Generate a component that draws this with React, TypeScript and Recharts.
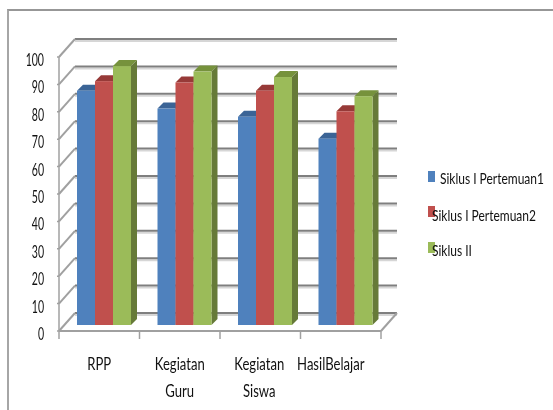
import React from "react";
import { BarChart, Bar, XAxis, YAxis, CartesianGrid, Legend } from "recharts";

const categories = ["RPP", "Kegiatan Guru", "Kegiatan Siswa", "HasilBelajar"];
const siklus1p1 = [85.5, 79, 76, 68];
const siklus1p2 = [89, 88.5, 85.5, 78];
const siklus2 = [94.5, 92.5, 90.5, 83.5];
const yTicks = [0, 10, 20, 30, 40, 50, 60, 70, 80, 90, 100];

const data = categories.map((name, i) => ({
  name,
  p1: siklus1p1[i],
  p2: siklus1p2[i],
  s2: siklus2[i],
}));

const series = [
  { key: "p1", name: "Siklus I Pertemuan1", front: "#4f81bd", top: "#3b6496", side: "#3b6496" },
  { key: "p2", name: "Siklus I Pertemuan2", front: "#c0504d", top: "#973a38", side: "#973a38" },
  { key: "s2", name: "Siklus II", front: "#9bbb59", top: "#76923c", side: "#667a38" },
];

const WIDTH = 553;
const HEIGHT = 410;
const PLOT_LEFT = 64;
const PLOT_RIGHT = 386;
const PLOT_TOP = 51;
const PLOT_BOTTOM = 325;
const STEP = (PLOT_BOTTOM - PLOT_TOP) / 10;
const BAND = (PLOT_RIGHT - PLOT_LEFT) / categories.length;
const FONT = "Lato";
const GRID = "#7f7f7f";

// front face of the 3d box sits between the axis plane and the back wall
const FRONT_DX = -5;
const FRONT_DY = 6;
const BACK_DX = 11;
const BACK_DY = -12;
const DEPTH = 6;

const Squeezed = ({ x, y, anchor, size = 15, squeeze = 0.74, children }: any) => (
  <text
    transform={`translate(${x},${y}) scale(${squeeze},1)`}
    textAnchor={anchor}
    fontFamily={FONT}
    fontSize={size}
    fill="#111"
  >
    {children}
  </text>
);

const Box3D = (props: any) => {
  const { x, y, width, height, colors } = props;
  const r = x + width;
  const b = y + height;
  return (
    <g>
      <polygon
        points={`${x},${y} ${x + DEPTH},${y - DEPTH} ${r + DEPTH},${y - DEPTH} ${r},${y}`}
        fill={colors.top}
      />
      <polygon
        points={`${r},${y} ${r + DEPTH},${y - DEPTH} ${r + DEPTH},${b - DEPTH} ${r},${b}`}
        fill={colors.side}
      />
      <rect x={x} y={y} width={width} height={height} fill={colors.front} />
    </g>
  );
};

const WallLine = (props: any) => {
  const { x1, x2, y1, index } = props;
  const fx = x1 + FRONT_DX;
  const fy = y1 + FRONT_DY;
  const bx = x1 + BACK_DX;
  const by = y1 + BACK_DY;
  const ex = x2 + BACK_DX;
  const isFloor = Math.abs(y1 - PLOT_BOTTOM) < 1;
  return (
    <g key={index}>
      <line x1={bx} y1={by + 2} x2={ex} y2={by + 2} stroke="#d6d6d6" strokeWidth={2} />
      <line x1={bx} y1={by} x2={ex} y2={by} stroke={GRID} strokeWidth={2} />
      <line x1={fx} y1={fy} x2={bx} y2={by} stroke="#a0a0a0" strokeWidth={2} />
      <line x1={fx - 2} y1={fy} x2={fx} y2={fy} stroke="#a0a0a0" strokeWidth={1.5} />
      {!isFloor && (
        <line x1={fx} y1={fy} x2={fx} y2={fy + STEP} stroke="#a0a0a0" strokeWidth={1.5} />
      )}
      {isFloor && (
        <g>
          <line x1={fx} y1={fy} x2={x2 + FRONT_DX} y2={fy} stroke="#a0a0a0" strokeWidth={2} />
          <line x1={x2 + FRONT_DX} y1={fy} x2={ex} y2={by} stroke="#a0a0a0" strokeWidth={2} />
        </g>
      )}
    </g>
  );
};

const YTick = ({ y, payload }: any) => (
  <Squeezed x={44} y={y + FRONT_DY + 9} anchor="end" size={16.5} squeeze={0.64}>
    {payload.value}
  </Squeezed>
);

const XTick = ({ x, payload, index }: any) => {
  const cx = x + FRONT_DX;
  const left = cx - BAND / 2;
  const words = String(payload.value).split(" ");
  // the original label boxes are not quite centred on the band
  const nudge = index === 3 ? -10 : index === 2 && words.length > 1 ? -1 : 0;
  return (
    <g>
      <line x1={left} y1={331} x2={left} y2={339} stroke="#a0a0a0" strokeWidth={1.5} />
      {index === categories.length - 1 && (
        <line x1={left + BAND} y1={331} x2={left + BAND} y2={339} stroke="#a0a0a0" strokeWidth={1.5} />
      )}
      {words.map((w, i) => (
        <Squeezed key={w} x={cx + nudge} y={370 + i * 27} anchor="middle" size={17} squeeze={0.77}>
          {w}
        </Squeezed>
      ))}
    </g>
  );
};

const legendRows = [
  { swatchY: 171, textX: 440, textY: 184 },
  { swatchY: 206, textX: 432, textY: 221 },
  { swatchY: 242, textX: 432, textY: 256 },
];

const LegendBox = () => (
  <svg width={WIDTH} height={HEIGHT} style={{ display: "block" }}>
    {series.map((s, i) => (
      <g key={s.key}>
        <rect x={428} y={legendRows[i].swatchY} width={7} height={11} fill={s.front} />
        <Squeezed x={legendRows[i].textX} y={legendRows[i].textY} anchor="start" size={16} squeeze={0.75}>
          {s.name}
        </Squeezed>
      </g>
    ))}
  </svg>
);

export default function App() {
  return (
    <div
      style={{
        position: "absolute",
        left: 0,
        top: 0,
        width: WIDTH,
        height: HEIGHT,
        overflow: "hidden",
        background: "#fff",
        filter: "blur(0.35px)",
      }}
    >
      <div
        style={{
          position: "absolute",
          left: 7,
          top: 9,
          right: -4,
          bottom: -4,
          borderTop: "2px solid #979797",
          borderLeft: "2px solid #a6a6a6",
        }}
      />
      <BarChart
        width={WIDTH}
        height={HEIGHT}
        data={data}
        barGap={0}
        barSize={18}
        margin={{
          top: PLOT_TOP,
          right: WIDTH - PLOT_RIGHT,
          left: PLOT_LEFT - 40,
          bottom: HEIGHT - PLOT_BOTTOM - 40,
        }}
        style={{ position: "absolute", left: 0, top: 0 }}
      >
        <CartesianGrid vertical={false} horizontal={(p: any) => <WallLine {...p} />} />
        <XAxis dataKey="name" height={40} axisLine={false} tickLine={false} tick={<XTick />} interval={0} />
        <YAxis
          width={40}
          domain={[0, 100]}
          ticks={yTicks}
          axisLine={false}
          tickLine={false}
          tick={<YTick />}
          interval={0}
        />
        <Legend
          layout="horizontal"
          align="center"
          verticalAlign="middle"
          wrapperStyle={{ position: "absolute", left: 0, top: 0, width: WIDTH, height: HEIGHT, pointerEvents: "none" }}
          content={<LegendBox />}
        />
        {series.map((s) => (
          <Bar
            key={s.key}
            dataKey={s.key}
            name={s.name}
            fill={s.front}
            isAnimationActive={false}
            shape={(p: any) => <Box3D {...p} colors={s} />}
          />
        ))}
      </BarChart>
    </div>
  );
}
